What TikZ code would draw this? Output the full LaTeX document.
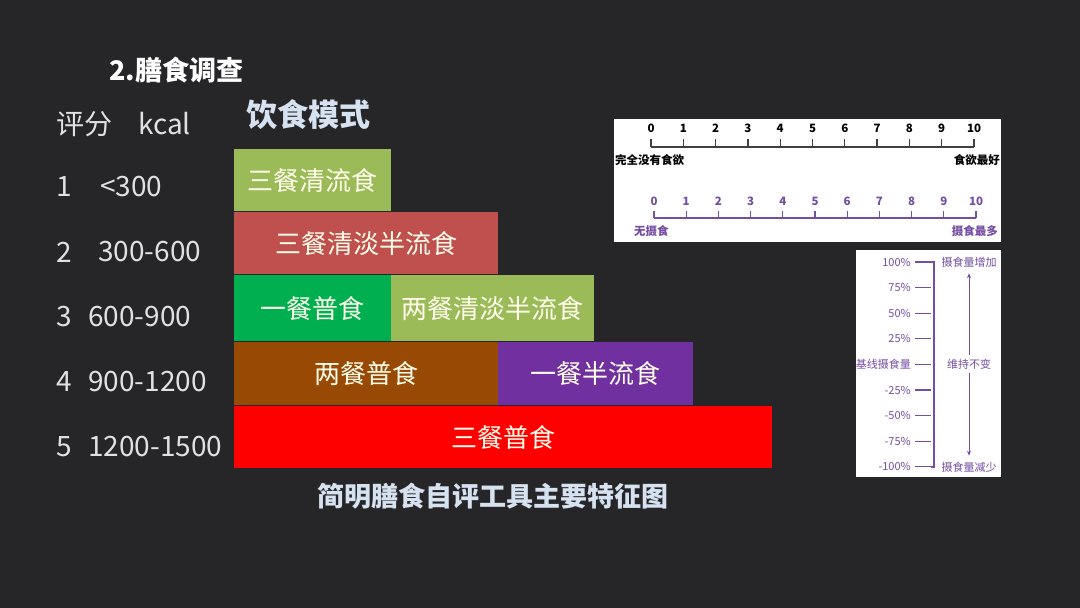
\documentclass[tikz,border=0pt]{standalone}
\usepackage{fontspec}
\setmainfont{Noto Sans CJK SC}
\usetikzlibrary{arrows.meta}
\definecolor{fondo}{RGB}{38,38,40}
\definecolor{oliva}{RGB}{155,187,89}
\definecolor{rojizo}{RGB}{192,80,77}
\definecolor{verde}{RGB}{0,176,80}
\definecolor{marron}{RGB}{152,74,4}
\definecolor{morado}{RGB}{112,48,160}
\definecolor{lila}{RGB}{117,78,163}
\definecolor{grisclaro}{RGB}{225,225,225}
\definecolor{azulclaro}{RGB}{214,226,240}

\begin{document}
\begin{tikzpicture}[x=1pt,y=-1pt,>={Stealth[length=5pt,width=4pt]},
  bloque/.style={anchor=north west,inner sep=0pt,text=white!92!yellow,font=\fontsize{26}{26}\selectfont},
  izq/.style={text=grisclaro,font=\fontsize{28}{28}\selectfont,inner sep=0pt},
  num/.style={font=\bfseries\fontsize{11.5}{11.5}\selectfont,inner sep=0pt,anchor=base},
  pct/.style={text=lila,font=\fontsize{11}{11}\selectfont,inner sep=0pt}]
  % fondo
  \fill[fondo] (0,0) rectangle (1080,608);
  \useasboundingbox (0,0) rectangle (1080,608);
  % titulos
  \node[text=white,font=\bfseries\fontsize{27}{27}\selectfont,anchor=west] (titulo) at (106,70) {2.膳食调查};
  \node[text=azulclaro,font=\bfseries\fontsize{31}{31}\selectfont,anchor=west] (modo) at (243,115) {饮食模式};
  \node[text=azulclaro,font=\bfseries\fontsize{27}{27}\selectfont] (pie) at (493,496) {简明膳食自评工具主要特征图};
  % columna izquierda
  \node[izq,anchor=west] (pf) at (56,124) {评分};
  \node[izq,anchor=west] (kcal) at (138,124) {kcal};
  \foreach \s/\x/\v [count=\k] in {1/100/<300,2/98/300-600,3/88/600-900,4/88/900-1200,5/88/1200-1500}{
    \node[izq,anchor=west] (s\k) at (56,{187+65*(\k-1)}) {\s};
    \node[izq,anchor=west] (v\k) at (\x,{187+65*(\k-1)}) {\v};
  }
  % bloques
  \node[bloque,fill=oliva,minimum width=157pt,minimum height=62pt] (b1) at (234,149) {三餐清流食};
  \node[bloque,fill=rojizo,minimum width=264pt,minimum height=62pt] (b2) at (234,212) {三餐清淡半流食};
  \node[bloque,fill=verde,minimum width=157pt,minimum height=66pt] (b3a) at (234,275) {一餐普食};
  \node[bloque,fill=oliva,minimum width=203pt,minimum height=66pt] (b3b) at (391,275) {两餐清淡半流食};
  \node[bloque,fill=marron,minimum width=264pt,minimum height=63pt] (b4a) at (234,342) {两餐普食};
  \node[bloque,fill=morado,minimum width=195pt,minimum height=63pt] (b4b) at (498,342) {一餐半流食};
  \node[bloque,fill=red,minimum width=538pt,minimum height=62pt] (b5) at (234,406) {三餐普食};
  % escala de apetito
  \fill[white] (614,119) rectangle (1001,242);
  \foreach \i in {0,...,10}{
    \node[num] (a\i) at ({651+32.3*\i},132) {\i};
    \draw[line width=1.3pt,black!75] ({651+32.3*\i},139) -- ({651+32.3*\i},147);
    \node[num,text=lila] (m\i) at ({654+32.2*\i},205) {\i};
    \draw[line width=1.3pt,lila] ({654+32.2*\i},211) -- ({654+32.2*\i},218);
  }
  \draw[line width=1.3pt,black!75] (651,147) -- (974,147);
  \draw[line width=1.3pt,lila] (654,218) -- (976,218);
  \node[num,anchor=west] (nada) at (615,160) {完全没有食欲};
  \node[num,anchor=east] (mejor) at (1000,160) {食欲最好};
  \node[num,text=lila,anchor=west] (cero) at (634,231) {无摄食};
  \node[num,text=lila,anchor=east] (max) at (998,231) {摄食最多};
  % escala de porcentaje
  \fill[white] (856,250) rectangle (1001,477);
  \foreach \p [count=\k from 0] in {100\%,75\%,50\%,25\%,基线摄食量,-25\%,-50\%,-75\%,-100\%}{
    \node[pct,anchor=east] (p\k) at (911,{262+25.6*\k}) {\p};
    \draw[line width=1.2pt,lila] (915,{262+25.6*\k}) -- (931,{262+25.6*\k});
  }
  \draw[line width=1.2pt,lila] (931,262) -- (934,262) -- (934,467) -- (931,467);
  \node[pct] (sube) at (969,262) {摄食量增加};
  \node[pct] (igual) at (969,364) {维持不变};
  \node[pct] (baja) at (969,467) {摄食量减少};
  \draw[->,lila,line width=0.9pt] (igual.north) ++(0,-4) -- ([yshift=-6pt]sube.south);
  \draw[->,lila,line width=0.9pt] (igual.south) ++(0,4) -- ([yshift=6pt]baja.north);
\end{tikzpicture}
\end{document}
